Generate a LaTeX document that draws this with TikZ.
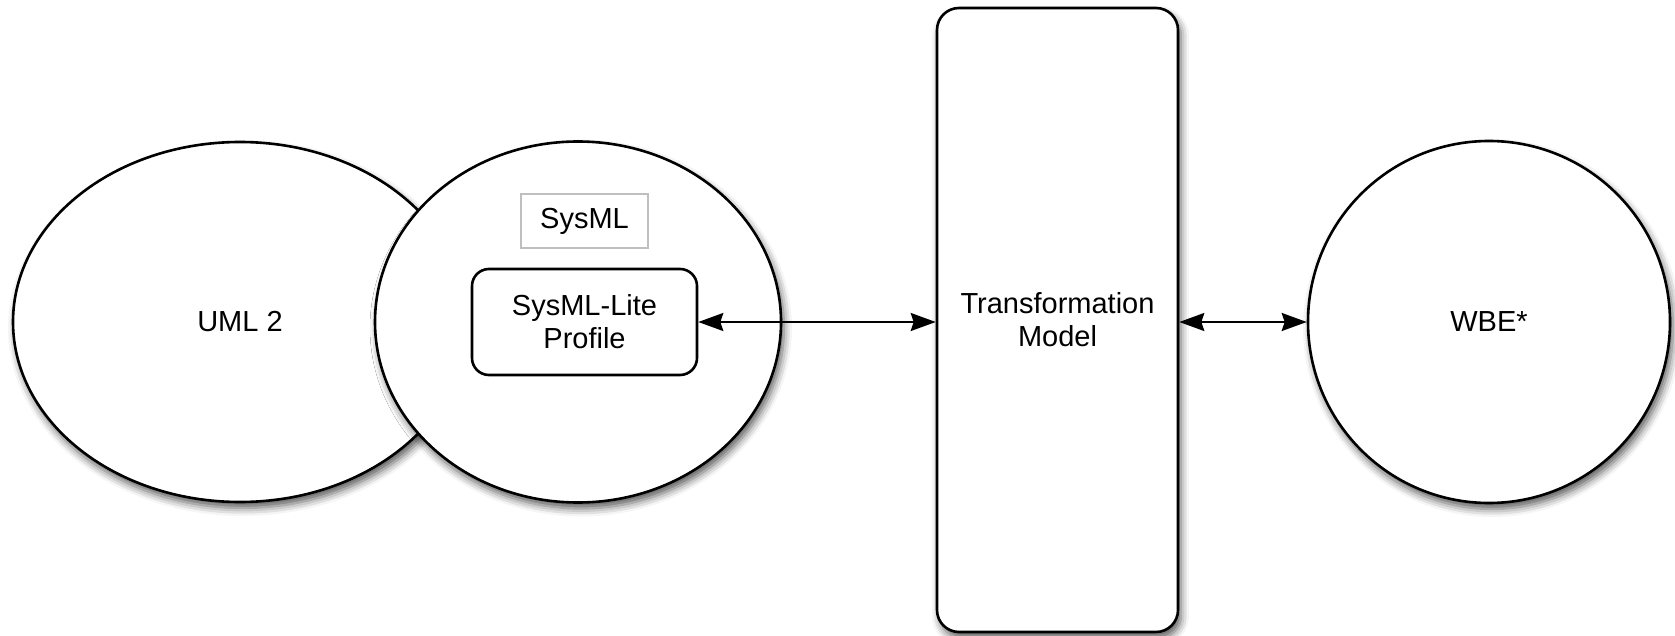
\documentclass[tikz,border=0pt]{standalone}
\usepackage{fontspec}
\setmainfont{Liberation Sans}
\usetikzlibrary{arrows.meta,shapes.geometric,shadows.blur}

\begin{document}
\begin{tikzpicture}[x=1pt,y=-1pt,
  txt/.style={font=\fontsize{29}{33}\selectfont, align=center, text=black},
  soft/.style={blur shadow={shadow xshift=3pt, shadow yshift=-6pt,
      shadow blur radius=8pt, shadow opacity=65}},
  blob/.style={draw=black, line width=2.6pt, fill=white, inner sep=0pt, txt},
  arr/.style={{Stealth[length=25pt,width=18pt,inset=3pt]}-{Stealth[length=25pt,width=18pt,inset=3pt]},
      line width=2.2pt, draw=black}]
  \useasboundingbox (0,0) rectangle (1675,636);

  % language families
  \node[blob, soft, ellipse, minimum width=454pt, minimum height=360pt] (uml) at (240,322) {UML 2};
  \node[blob, soft, ellipse, minimum width=406pt, minimum height=361pt] (sysml) at (578,322) {};
  \node[draw=black!25, line width=1.8pt, fill=white, txt, minimum width=127pt, minimum height=54pt, inner sep=0pt]
    (sysmllabel) at (584.5,221) {SysML};
  \node[blob, rounded corners=17pt, minimum width=225pt, minimum height=106pt] (lite) at (584.5,322)
    {SysML-Lite\\Profile};

  % transformation and target
  \node[blob, soft, rounded corners=22pt, minimum width=241pt, minimum height=624pt] (trans) at (1057.5,320)
    {Transformation\\Model};
  \node[blob, soft, circle, minimum size=362pt] (wbe) at (1489,322) {WBE*};

  % connectors
  \draw[arr] (lite.east) -- (lite.east -| trans.west);
  \draw[arr] (wbe.west -| trans.east) -- (wbe.west);
\end{tikzpicture}
\end{document}
